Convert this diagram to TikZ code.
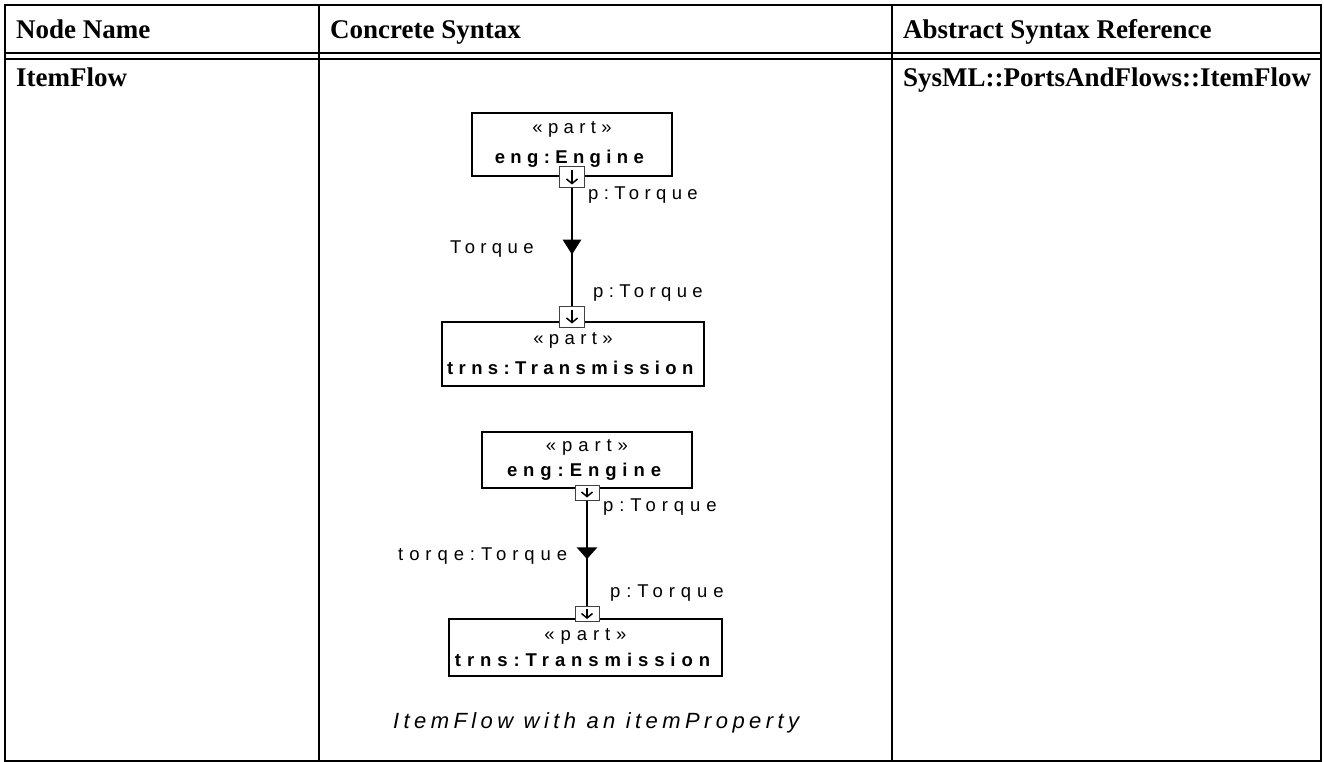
\documentclass[tikz,border=0pt]{standalone}
\usepackage{fontspec}
\setmainfont{Liberation Serif}
\newfontfamily\partfont[LetterSpace=29]{Liberation Sans}
\newfontfamily\partfontwide[LetterSpace=32]{Liberation Sans}
\newfontfamily\notefont[LetterSpace=20]{Liberation Sans}
\usetikzlibrary{arrows.meta,decorations.markings}

\begin{document}
\begin{tikzpicture}[x=1pt,y=-1pt,
  hdr/.style={anchor=base west,inner sep=0pt,font=\bfseries\fontsize{27}{32}\selectfont},
  partbox/.style={draw,line width=2pt,align=center,inner sep=0pt},
  portbox/.style={draw=black!75,fill=white,line width=1pt,inner sep=0pt},
  portarrow/.style={-{Straight Barb[length=4.5pt,width=11pt]},line width=1.5pt},
  flowline/.style={line width=1.6pt},
  flowmark/.style 2 args={postaction={decorate,decoration={markings,
    mark=at position 0.5 with {\fill (#1,0pt) -- (-#1,#2) -- (-#1,-#2) -- cycle;}}}},
  flowlbl/.style={anchor=base west,inner sep=0pt},
  uppertext/.style={font=\partfont\fontsize{18.5}{30}\selectfont},
  lowertext/.style={font=\partfontwide\fontsize{18.5}{25.5}\selectfont}]
\useasboundingbox (0,0) rectangle (1324,762);
% Table frame
\draw[line width=2pt] (5,5) rectangle (1321,761);
\foreach \x in {319,892} \draw[line width=2pt] (\x,5) -- (\x,761);
\foreach \y in {53,59} \draw[line width=1.6pt] (5,\y) -- (1321,\y);
% Header and row texts
\node[hdr] (hname) at (16,39) {Node Name};
\node[hdr] (hsyntax) at (330,39) {Concrete Syntax};
\node[hdr] (href) at (903,39) {Abstract Syntax Reference};
\node[hdr] (rname) at (16,87) {ItemFlow};
\node[hdr] (rref) at (903,87) {SysML::PortsAndFlows::ItemFlow};
% Upper item flow
\node[partbox,minimum width=200pt,minimum height=63pt,uppertext] (eng1) at (572,144.5) {«part»\\\textbf{eng:Engine}};
\node[portbox,minimum width=25pt,minimum height=21pt] (eng1p) at (572,177.5) {};
\node[partbox,minimum width=262pt,minimum height=64pt,uppertext] (trns1) at (573,354) {«part»\\\textbf{trns:Transmission}};
\node[portbox,minimum width=25pt,minimum height=21pt] (trns1p) at (572,316.5) {};
\foreach \p in {eng1p,trns1p} \draw[portarrow] (\p.center) +(0,-7) -- +(0,7);
\draw[flowline,flowmark={7.5pt}{9.5pt}] (eng1p) -- (trns1p);
\node[flowlbl,uppertext] (eng1lbl) at (588,200) {p:Torque};
\node[flowlbl,uppertext] (flow1lbl) at (450,253) {Torque};
\node[flowlbl,uppertext] (trns1lbl) at (593,297) {p:Torque};
% Lower item flow, with an item property
\node[partbox,minimum width=210pt,minimum height=56pt,lowertext] (eng2) at (587,460) {«part»\\\textbf{eng:Engine}};
\node[portbox,minimum width=24pt,minimum height=15pt] (eng2p) at (587,492.5) {};
\node[partbox,minimum width=273pt,minimum height=57pt,lowertext] (trns2) at (585.5,647.5) {«part»\\\textbf{trns:Transmission}};
\node[portbox,minimum width=24pt,minimum height=15pt] (trns2p) at (587,614) {};
\foreach \p in {eng2p,trns2p} \draw[portarrow] (\p.center) +(0,-5) -- +(0,5);
\draw[flowline,flowmark={5.8pt}{10.3pt}] (eng2p) -- (trns2p);
\node[flowlbl,lowertext] (eng2lbl) at (603,511.7) {p:Torque};
\node[flowlbl,lowertext] (flow2lbl) at (398,560) {torqe:Torque};
\node[flowlbl,lowertext] (trns2lbl) at (610,597.3) {p:Torque};
\node[anchor=base west,inner sep=0pt,font=\notefont\itshape\fontsize{22}{26}\selectfont] (note) at (393,728) {ItemFlow with an itemProperty};
\end{tikzpicture}
\end{document}
